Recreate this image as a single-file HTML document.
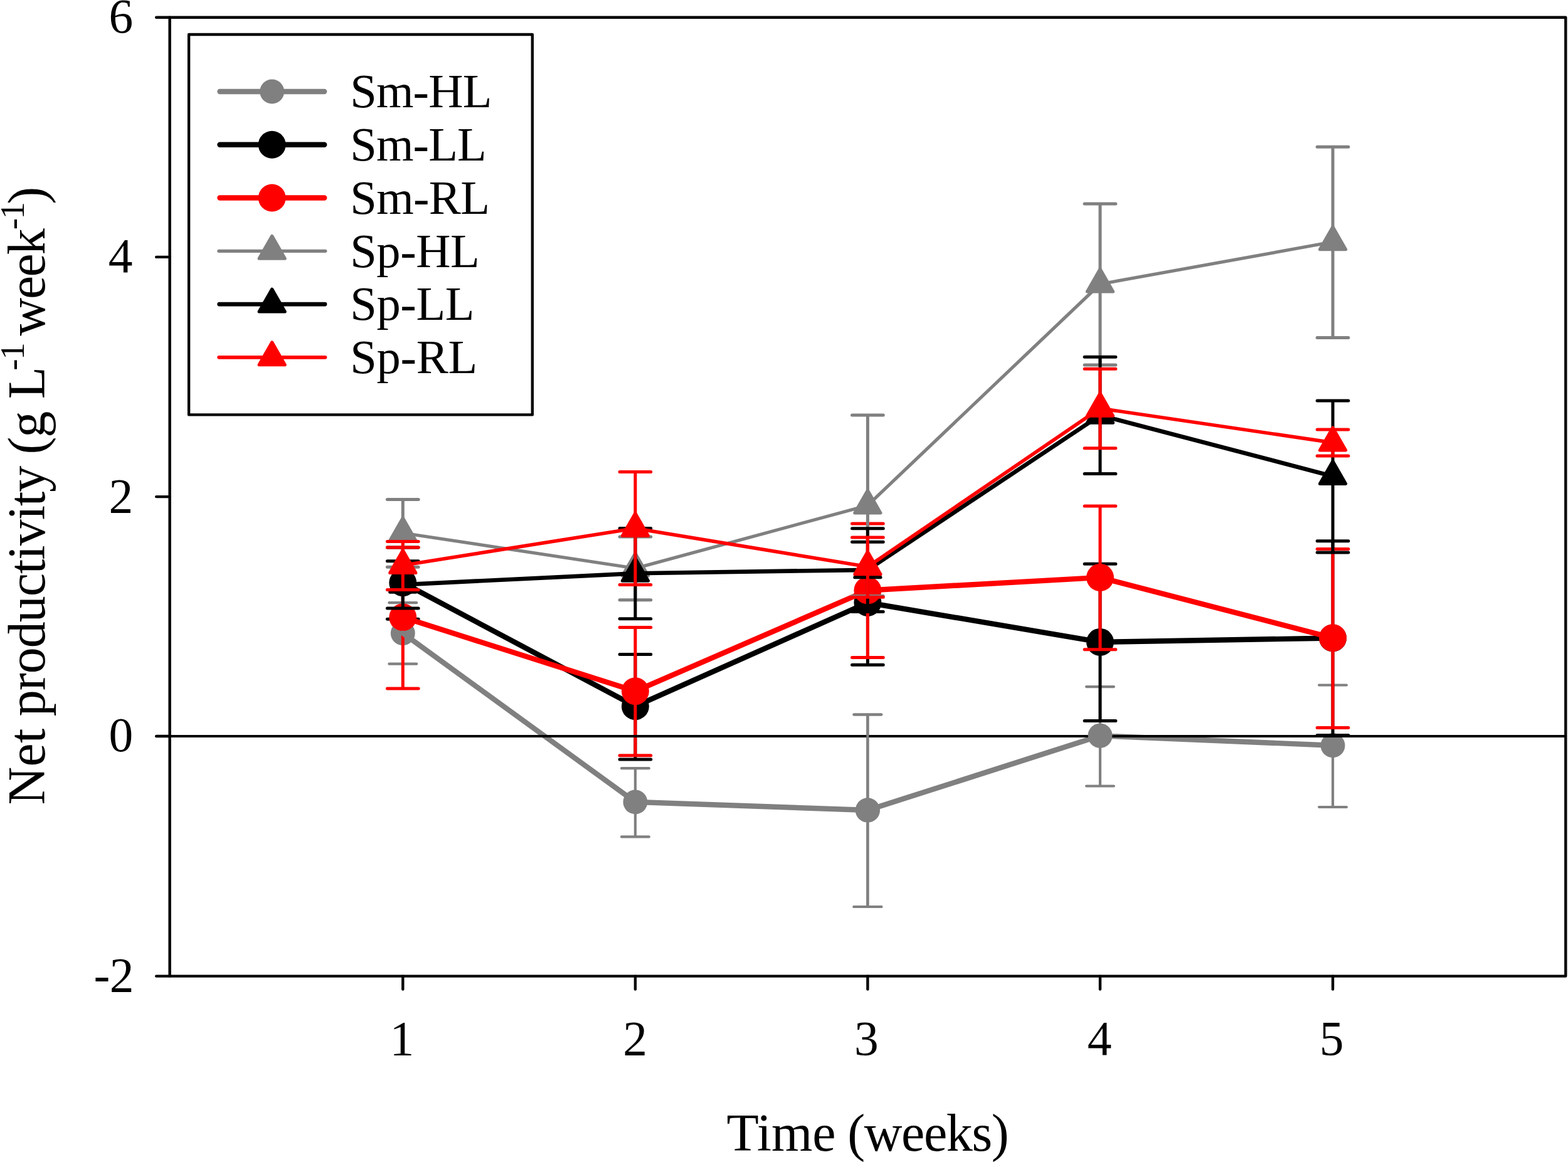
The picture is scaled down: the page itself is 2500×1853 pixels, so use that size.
<!DOCTYPE html>
<html lang="en"><head><meta charset="utf-8"><title>Net productivity over time</title>
<style>html,body{margin:0;padding:0;background:#fff;}body{width:2500px;height:1853px;overflow:hidden;}svg{display:block;}text{font-family:"Liberation Serif","DejaVu Serif",serif;fill:#000;}</style>
</head><body>
<svg xmlns="http://www.w3.org/2000/svg" width="2500" height="1853" viewBox="0 0 2500 1853">
<rect x="0" y="0" width="2500" height="1853" fill="#fff"/>
<g id="plotA">
<polyline points="1012.9,1278.9 1383.4,1292 1754,1173.3 2125,1188.8" fill="none" stroke="#808080" stroke-width="8.4" stroke-linecap="round" stroke-linejoin="round"/>
<path d="M642.3,961.2V1058.7M620.4,961.2H664.2M620.4,1058.7H664.2" fill="none" stroke="#808080" stroke-width="4.2" stroke-linecap="round"/>
<path d="M1012.9,1225.15V1334.4M991,1225.15H1034.8M991,1334.4H1034.8" fill="none" stroke="#808080" stroke-width="4.2" stroke-linecap="round"/>
<path d="M1383.4,1139.5V1446M1361.5,1139.5H1405.3M1361.5,1446H1405.3" fill="none" stroke="#808080" stroke-width="4.2" stroke-linecap="round"/>
<path d="M1754,1095.1V1253.5M1732.1,1095.1H1775.9M1732.1,1253.5H1775.9" fill="none" stroke="#808080" stroke-width="4.2" stroke-linecap="round"/>
<path d="M2125,1092.5V1287M2103.1,1092.5H2146.9M2103.1,1287H2146.9" fill="none" stroke="#808080" stroke-width="4.2" stroke-linecap="round"/>
<circle cx="642.3" cy="1009.7" r="19.45" fill="#808080"/>
<circle cx="1012.9" cy="1278.9" r="19.45" fill="#808080"/>
<circle cx="1383.4" cy="1292" r="19.45" fill="#808080"/>
<circle cx="1754" cy="1173.3" r="19.45" fill="#808080"/>
<circle cx="2125" cy="1188.8" r="19.45" fill="#808080"/>
<polyline points="642.3,929.3 1012.9,1126.3 1383.4,961 1754,1023.9 2125,1017.5" fill="none" stroke="#000000" stroke-width="8.4" stroke-linecap="round" stroke-linejoin="round"/>
<path d="M642.3,873.1V987.2M617.45,873.1H667.15M617.45,987.2H667.15" fill="none" stroke="#000000" stroke-width="5.0" stroke-linecap="round"/>
<path d="M1012.9,1043.55V1211.1M988.05,1043.55H1037.75M988.05,1211.1H1037.75" fill="none" stroke="#000000" stroke-width="5.0" stroke-linecap="round"/>
<path d="M1383.4,864.3V1060.3M1358.55,864.3H1408.25M1358.55,1060.3H1408.25" fill="none" stroke="#000000" stroke-width="5.0" stroke-linecap="round"/>
<path d="M1754,899.2V1149.5M1729.15,899.2H1778.85M1729.15,1149.5H1778.85" fill="none" stroke="#000000" stroke-width="5.0" stroke-linecap="round"/>
<path d="M2125,862.7V1172.5M2100.15,862.7H2149.85M2100.15,1172.5H2149.85" fill="none" stroke="#000000" stroke-width="5.0" stroke-linecap="round"/>
<circle cx="642.3" cy="929.3" r="21.95" fill="#000000"/>
<circle cx="1012.9" cy="1126.3" r="21.95" fill="#000000"/>
<circle cx="1383.4" cy="961" r="21.95" fill="#000000"/>
<circle cx="1754" cy="1023.9" r="21.95" fill="#000000"/>
<circle cx="2125" cy="1017.5" r="21.95" fill="#000000"/>
<polyline points="642.3,984.3 1012.9,1102.2 1383.4,941.5 1754,920.9 2125,1017.3" fill="none" stroke="#ff0000" stroke-width="8.4" stroke-linecap="round" stroke-linejoin="round"/>
<path d="M642.3,873.1V1098.1M617.45,873.1H667.15M617.45,1098.1H667.15" fill="none" stroke="#ff0000" stroke-width="5.0" stroke-linecap="round"/>
<path d="M1012.9,1000.4V1204.65M988.05,1000.4H1037.75M988.05,1204.65H1037.75" fill="none" stroke="#ff0000" stroke-width="5.0" stroke-linecap="round"/>
<path d="M1383.4,835.1V1048.5M1358.55,835.1H1408.25M1358.55,1048.5H1408.25" fill="none" stroke="#ff0000" stroke-width="5.0" stroke-linecap="round"/>
<path d="M1754,806.9V1035.8M1729.15,806.9H1778.85M1729.15,1035.8H1778.85" fill="none" stroke="#ff0000" stroke-width="5.0" stroke-linecap="round"/>
<path d="M2125,875.45V1160.5M2100.15,875.45H2149.85M2100.15,1160.5H2149.85" fill="none" stroke="#ff0000" stroke-width="5.0" stroke-linecap="round"/>
<circle cx="642.3" cy="984.3" r="21.95" fill="#ff0000"/>
<circle cx="1012.9" cy="1102.2" r="21.95" fill="#ff0000"/>
<circle cx="1383.4" cy="941.5" r="21.95" fill="#ff0000"/>
<circle cx="1754" cy="920.9" r="21.95" fill="#ff0000"/>
<circle cx="2125" cy="1017.3" r="21.95" fill="#ff0000"/>
<polyline points="642.3,1009.7 1012.9,1278.9" fill="none" stroke="#808080" stroke-width="8.4" stroke-linecap="round" stroke-linejoin="round"/>
</g>
<line x1="270.65" y1="1174.0" x2="2496.3" y2="1174.0" stroke="#000" stroke-width="4.2"/>
<path d="M1383.4,1139.5V1446M1361.5,1139.5H1405.3M1361.5,1446H1405.3" fill="none" stroke="#808080" stroke-width="4.2" stroke-linecap="round"/>
<circle cx="1383.4" cy="1292" r="19.45" fill="#808080"/>
<circle cx="1754" cy="1173.3" r="19.45" fill="#808080"/>
<g id="plotB">
<polyline points="642.3,850 1012.9,906.3 1383.4,805.9 1754,453 2125,385.8" fill="none" stroke="#808080" stroke-width="5.2" stroke-linecap="round" stroke-linejoin="round"/>
<path d="M642.3,796.6V904.2M617.45,796.6H667.15M617.45,904.2H667.15" fill="none" stroke="#808080" stroke-width="5.0" stroke-linecap="round"/>
<path d="M1012.9,856V956.7M988.05,856H1037.75M988.05,956.7H1037.75" fill="none" stroke="#808080" stroke-width="5.0" stroke-linecap="round"/>
<path d="M1383.4,662V950.5M1358.55,662H1408.25M1358.55,950.5H1408.25" fill="none" stroke="#808080" stroke-width="5.0" stroke-linecap="round"/>
<path d="M1754,324.97V582M1729.15,324.97H1778.85M1729.15,582H1778.85" fill="none" stroke="#808080" stroke-width="5.0" stroke-linecap="round"/>
<path d="M2125,234.3V538.5M2100.15,234.3H2149.85M2100.15,538.5H2149.85" fill="none" stroke="#808080" stroke-width="5.0" stroke-linecap="round"/>
<polygon points="642.3,826 662.9,862 621.7,862" fill="#808080" stroke="#808080" stroke-width="5.0" stroke-linejoin="round"/>
<polygon points="1012.9,882.3 1033.5,918.3 992.3,918.3" fill="#808080" stroke="#808080" stroke-width="5.0" stroke-linejoin="round"/>
<polygon points="1383.4,781.9 1404,817.9 1362.8,817.9" fill="#808080" stroke="#808080" stroke-width="5.0" stroke-linejoin="round"/>
<polygon points="1754,429 1774.6,465 1733.4,465" fill="#808080" stroke="#808080" stroke-width="5.0" stroke-linejoin="round"/>
<polygon points="2125,361.8 2145.6,397.8 2104.4,397.8" fill="#808080" stroke="#808080" stroke-width="5.0" stroke-linejoin="round"/>
<polyline points="642.3,932.3 1012.9,914.3 1383.4,908.8 1754,662.3 2125,759.4" fill="none" stroke="#000000" stroke-width="6.7" stroke-linecap="round" stroke-linejoin="round"/>
<path d="M642.3,894.7V970.1M617.45,894.7H667.15M617.45,970.1H667.15" fill="none" stroke="#000000" stroke-width="5.0" stroke-linecap="round"/>
<path d="M1012.9,842.6V986.7M988.05,842.6H1037.75M988.05,986.7H1037.75" fill="none" stroke="#000000" stroke-width="5.0" stroke-linecap="round"/>
<path d="M1383.4,842.8V975.4M1358.55,842.8H1408.25M1358.55,975.4H1408.25" fill="none" stroke="#000000" stroke-width="5.0" stroke-linecap="round"/>
<path d="M1754,569.35V755.4M1729.15,569.35H1778.85M1729.15,755.4H1778.85" fill="none" stroke="#000000" stroke-width="5.0" stroke-linecap="round"/>
<path d="M2125,639.04V880.9M2100.15,639.04H2149.85M2100.15,880.9H2149.85" fill="none" stroke="#000000" stroke-width="5.0" stroke-linecap="round"/>
<polygon points="642.3,908.3 662.9,944.3 621.7,944.3" fill="#000000" stroke="#000000" stroke-width="5.0" stroke-linejoin="round"/>
<polygon points="1012.9,890.3 1033.5,926.3 992.3,926.3" fill="#000000" stroke="#000000" stroke-width="5.0" stroke-linejoin="round"/>
<polygon points="1383.4,884.8 1404,920.8 1362.8,920.8" fill="#000000" stroke="#000000" stroke-width="5.0" stroke-linejoin="round"/>
<polygon points="1754,638.3 1774.6,674.3 1733.4,674.3" fill="#000000" stroke="#000000" stroke-width="5.0" stroke-linejoin="round"/>
<polygon points="2125,735.4 2145.6,771.4 2104.4,771.4" fill="#000000" stroke="#000000" stroke-width="5.0" stroke-linejoin="round"/>
<polyline points="642.3,901.5 1012.9,842.5 1383.4,903.8 1754,651.2 2125,705.9" fill="none" stroke="#ff0000" stroke-width="5.65" stroke-linecap="round" stroke-linejoin="round"/>
<path d="M642.3,863.4V940.5M617.45,863.4H667.15M617.45,940.5H667.15" fill="none" stroke="#ff0000" stroke-width="5.0" stroke-linecap="round"/>
<path d="M1012.9,752.5V932.6M988.05,752.5H1037.75M988.05,932.6H1037.75" fill="none" stroke="#ff0000" stroke-width="5.0" stroke-linecap="round"/>
<path d="M1383.4,856.9V952.2M1358.55,856.9H1408.25M1358.55,952.2H1408.25" fill="none" stroke="#ff0000" stroke-width="5.0" stroke-linecap="round"/>
<path d="M1754,588.14V714.8M1729.15,588.14H1778.85M1729.15,714.8H1778.85" fill="none" stroke="#ff0000" stroke-width="5.0" stroke-linecap="round"/>
<path d="M2125,685.07V727.1M2100.15,685.07H2149.85M2100.15,727.1H2149.85" fill="none" stroke="#ff0000" stroke-width="5.0" stroke-linecap="round"/>
<polygon points="642.3,877.5 662.9,913.5 621.7,913.5" fill="#ff0000" stroke="#ff0000" stroke-width="5.0" stroke-linejoin="round"/>
<polygon points="1012.9,818.5 1033.5,854.5 992.3,854.5" fill="#ff0000" stroke="#ff0000" stroke-width="5.0" stroke-linejoin="round"/>
<polygon points="1383.4,879.8 1404,915.8 1362.8,915.8" fill="#ff0000" stroke="#ff0000" stroke-width="5.0" stroke-linejoin="round"/>
<polygon points="1754,627.2 1774.6,663.2 1733.4,663.2" fill="#ff0000" stroke="#ff0000" stroke-width="5.0" stroke-linejoin="round"/>
<polygon points="2125,681.9 2145.6,717.9 2104.4,717.9" fill="#ff0000" stroke="#ff0000" stroke-width="5.0" stroke-linejoin="round"/>
</g>
<g fill="none" stroke="#000" stroke-width="4.4" stroke-linecap="round" stroke-linejoin="round">
<rect x="270.65" y="27.7" width="2225.65" height="1528.9"/>
<line x1="249.2" y1="27.7" x2="270.65" y2="27.7"/>
<line x1="249.2" y1="409.9" x2="270.65" y2="409.9"/>
<line x1="249.2" y1="792.1" x2="270.65" y2="792.1"/>
<line x1="249.2" y1="1174" x2="270.65" y2="1174"/>
<line x1="249.2" y1="1556.6" x2="270.65" y2="1556.6"/>
<line x1="642.3" y1="1556.6" x2="642.3" y2="1577.5"/>
<line x1="1012.9" y1="1556.6" x2="1012.9" y2="1577.5"/>
<line x1="1383.4" y1="1556.6" x2="1383.4" y2="1577.5"/>
<line x1="1754.0" y1="1556.6" x2="1754.0" y2="1577.5"/>
<line x1="2125.0" y1="1556.6" x2="2125.0" y2="1577.5"/>
</g>
<g id="legend">
<rect x="301.1" y="55" width="547.7" height="606.4" fill="#fff" stroke="#000" stroke-width="4.4" stroke-linejoin="round"/>
<line x1="350.5" y1="146" x2="517.2" y2="146" stroke="#808080" stroke-width="8.4" stroke-linecap="round"/>
<circle cx="433.7" cy="146" r="19.45" fill="#808080"/>
<line x1="350.5" y1="230.77" x2="517.2" y2="230.77" stroke="#000000" stroke-width="8.4" stroke-linecap="round"/>
<circle cx="433.7" cy="230.77" r="21.95" fill="#000000"/>
<line x1="350.5" y1="315.54" x2="517.2" y2="315.54" stroke="#ff0000" stroke-width="8.4" stroke-linecap="round"/>
<circle cx="433.7" cy="315.54" r="21.95" fill="#ff0000"/>
<line x1="348.9" y1="400.31" x2="518.8" y2="400.31" stroke="#808080" stroke-width="5.2" stroke-linecap="round"/>
<polygon points="433.7,376.31 454.3,412.31 413.1,412.31" fill="#808080" stroke="#808080" stroke-width="5.0" stroke-linejoin="round"/>
<line x1="349.65" y1="485.08" x2="518.05" y2="485.08" stroke="#000000" stroke-width="6.7" stroke-linecap="round"/>
<polygon points="433.7,461.08 454.3,497.08 413.1,497.08" fill="#000000" stroke="#000000" stroke-width="5.0" stroke-linejoin="round"/>
<line x1="349.12" y1="569.85" x2="518.57" y2="569.85" stroke="#ff0000" stroke-width="5.65" stroke-linecap="round"/>
<polygon points="433.7,545.85 454.3,581.85 413.1,581.85" fill="#ff0000" stroke="#ff0000" stroke-width="5.0" stroke-linejoin="round"/>
</g>
<g id="labels">
<text transform="rotate(-90)" font-size="84px"><tspan x="-1283.54" y="71" letter-spacing="0.27px">Net</tspan> <tspan x="-1142.27" y="71" letter-spacing="-1px">productivity</tspan> <tspan x="-724.58" y="71" letter-spacing="-1.02px">(g</tspan> <tspan x="-636.13" y="71">L</tspan><tspan x="-590.67" y="38.1" font-size="55px" letter-spacing="-1.5px">-1</tspan> <tspan x="-535.58" y="71" letter-spacing="-1.98px">week</tspan><tspan x="-366.27" y="38.1" font-size="55px" letter-spacing="-1.5px">-1</tspan><tspan x="-325.85" y="71">)</tspan></text>
<text font-size="84px"><tspan x="1158.49" y="1834.8" letter-spacing="-0.11px">Time</tspan> <tspan x="1351.32" y="1834.8" letter-spacing="-1.42px">(weeks)</tspan></text>
<text x="558.22" y="171.1" font-size="76.5px" letter-spacing="-0.83px">Sm-HL</text>
<text x="558.37" y="255.9" font-size="76.5px" letter-spacing="-0.91px">Sm-LL</text>
<text x="558.3" y="340.7" font-size="76.5px" letter-spacing="-0.68px">Sm-RL</text>
<text x="558.25" y="425.5" font-size="76.5px" letter-spacing="-0.45px">Sp-HL</text>
<text x="558.22" y="510.3" font-size="76.5px" letter-spacing="-0.37px">Sp-LL</text>
<text x="558.37" y="595.1" font-size="76.5px" letter-spacing="-0.3px">Sp-RL</text>
<text x="173.38" y="52.1" font-size="77.5px">6</text>
<text x="172.67" y="434.3" font-size="77.5px">4</text>
<text x="173.47" y="816.5" font-size="77.5px">2</text>
<text x="173.58" y="1198.4" font-size="77.5px">0</text>
<text x="149.57" y="1581" font-size="77.5px" letter-spacing="-0.71px">-2</text>
<text x="621.41" y="1682.2" font-size="77.5px">1</text>
<text x="993.13" y="1682.2" font-size="77.5px">2</text>
<text x="1362.11" y="1682.2" font-size="77.5px">3</text>
<text x="1733.67" y="1682.2" font-size="77.5px">4</text>
<text x="2103.69" y="1682.2" font-size="77.5px">5</text>
</g>
</svg>
</body></html>
